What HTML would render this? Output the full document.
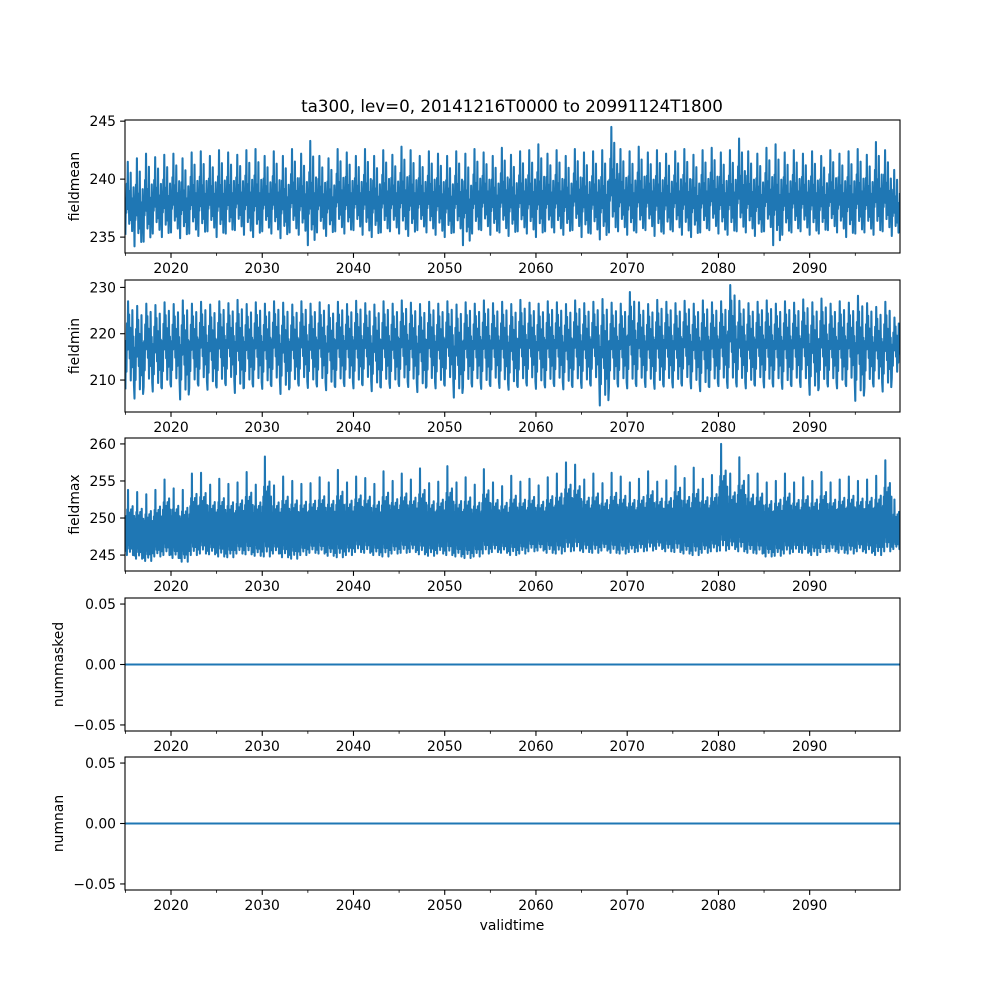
<!DOCTYPE html>
<html><head><meta charset="utf-8"><style>
html,body{margin:0;padding:0;background:#fff}
svg{display:block}
text{font-family:"DejaVu Sans","Liberation Sans",sans-serif;font-size:13.9px;fill:#000}
</style></head><body>
<svg id="fig" width="1000" height="1000" viewBox="0 0 1000 1000">
<text x="512" y="112" text-anchor="middle" style="font-size:16.7px">ta300, lev=0, 20141216T0000 to 20991124T1800</text>
<text x="512" y="930" text-anchor="middle">validtime</text>
</svg>
<script>
const years = [];
for (let y = 2015; y <= 2099; y++) years.push(y);
const xTicks = [2020, 2030, 2040, 2050, 2060, 2070, 2080, 2090];
const xMinorTicks = [2015, 2025, 2035, 2045, 2055, 2065, 2075, 2085, 2095];

const meanPeaks = [241.5,241.8,242.2,241.9,242.1,242.2,241.8,242.3,242.4,242.0,242.5,242.3,242.1,242.5,242.6,242.0,242.4,242.0,242.6,242.2,243.3,242.0,241.8,242.6,242.3,242.0,242.6,242.0,242.5,242.1,242.8,242.5,242.0,242.4,242.2,242.0,242.4,242.2,242.6,242.3,242.0,242.7,242.1,242.4,242.5,243.0,242.2,242.5,242.0,242.6,242.3,242.4,242.5,244.5,242.6,242.4,242.8,242.3,242.5,242.2,242.4,242.6,242.1,242.5,242.7,242.3,242.5,243.5,242.4,242.2,242.7,243.0,242.3,242.5,242.2,242.4,242.0,242.5,242.2,242.4,242.6,242.1,243.2,242.5,240.8];
const meanTroughs = [235.2,234.2,234.6,235.3,235.0,235.4,234.9,235.3,235.1,235.5,235.0,235.3,235.6,235.2,235.0,235.5,235.3,234.9,235.4,235.2,234.3,235.4,235.1,235.5,235.3,235.6,235.2,235.0,235.4,235.5,235.3,235.1,235.6,235.4,235.2,235.0,235.4,234.3,235.3,235.6,235.2,235.4,235.1,235.5,235.3,235.0,235.5,235.4,235.2,235.6,235.0,235.3,234.8,235.4,235.5,235.2,235.4,235.6,235.1,235.3,235.5,235.2,235.0,235.4,235.6,235.3,235.2,235.5,235.4,235.1,235.5,234.3,235.2,235.4,235.5,235.2,235.3,235.6,235.4,235.0,235.3,235.4,235.2,235.5,235.1];

const minPeaks = [227.0,226.0,226.5,226.2,226.8,226.4,227.2,226.5,226.9,226.3,227.0,226.6,227.3,226.4,226.8,226.5,227.0,226.7,226.3,227.0,226.5,226.8,226.2,226.9,226.4,227.1,226.6,226.3,227.0,226.5,227.2,226.7,226.4,226.9,226.5,227.0,226.3,226.8,226.5,227.2,226.6,226.9,226.4,227.3,226.7,226.5,227.0,226.8,226.4,227.2,226.6,226.9,227.5,226.7,226.5,229.0,226.8,226.4,227.3,226.9,226.6,227.1,226.5,227.2,226.8,227.0,230.5,227.1,226.6,226.9,227.2,226.5,227.0,226.7,227.4,226.8,227.6,226.5,227.0,226.7,228.2,226.6,225.8,226.9,223.5];
const minTroughs = [208.0,206.0,208.5,207.5,208.2,208.6,205.8,208.3,208.8,207.9,208.4,208.9,207.2,208.3,208.6,208.1,208.7,207.0,208.4,208.8,208.3,208.6,207.8,208.5,208.7,208.2,208.9,207.6,208.4,208.3,208.7,208.5,207.4,208.6,208.2,208.8,206.2,208.4,208.6,208.1,208.7,208.3,207.9,208.5,208.8,208.1,208.4,208.7,208.0,208.5,208.3,208.8,204.5,208.4,208.6,208.2,208.7,208.5,208.1,208.6,208.4,208.8,208.2,207.6,208.5,208.7,208.3,208.6,208.2,208.8,208.4,208.6,208.1,208.7,208.5,206.8,208.3,208.6,208.2,208.7,205.5,208.4,208.6,207.5,210.5];

const maxTops = [253.8,253.5,253.2,253.8,255.2,254.0,253.8,256.0,256.1,254.5,255.3,254.6,254.8,256.2,254.5,258.3,254.4,255.6,255.0,254.6,254.7,255.5,254.8,256.5,254.8,255.6,255.4,254.6,256.3,255.0,256.0,255.2,256.7,254.7,254.9,257.0,254.8,255.5,254.5,256.6,254.8,254.3,255.7,254.9,255.3,254.4,255.5,256.0,257.5,257.2,255.2,256.0,254.7,256.1,255.6,254.8,255.3,256.3,254.9,255.1,257.0,255.4,256.8,255.3,255.8,260.0,256.0,258.2,255.8,256.0,254.8,255.0,256.0,254.8,255.5,255.0,256.2,254.8,255.2,255.6,255.0,255.2,255.7,257.8,252.5];
const maxLows = [245.0,244.5,244.2,244.8,245.0,244.6,244.1,245.0,245.2,245.1,244.8,244.7,245.2,245.1,244.9,244.8,245.2,244.7,244.5,245.0,245.3,245.2,244.9,244.7,245.0,245.4,245.3,245.0,244.8,245.2,245.3,245.4,245.1,244.9,245.2,245.0,244.8,244.6,244.8,245.2,245.4,245.3,245.0,245.2,245.5,245.6,245.3,245.2,245.5,245.6,245.4,245.3,245.6,245.3,245.2,245.4,245.5,245.6,245.8,245.5,245.4,245.2,245.0,245.3,245.5,245.6,245.8,245.5,245.3,245.2,244.8,244.9,245.2,245.4,245.3,245.0,245.4,245.5,245.3,245.2,245.5,245.3,245.0,245.5,245.8];

const zeroSeries = years.map(() => 0);

const svg = document.getElementById('fig');
const NS = 'http://www.w3.org/2000/svg';
const X0 = 125, X1 = 900, T0 = 2014.958, T1 = 2099.9;
function xs(t) { return X0 + (t - T0) / (T1 - T0) * (X1 - X0); }

function mk(tag, attrs, parent) {
  const e = document.createElementNS(NS, tag);
  for (const k in attrs) e.setAttribute(k, attrs[k]);
  (parent || svg).appendChild(e);
  return e;
}

const panels = [
  {name:'fieldmean', top:120, bot:253, ymin:233.63, ymax:245.1, ticks:[235,240,245], fmt:v=>String(v), lx:79},
  {name:'fieldmin', top:280, bot:412, ymin:203.1, ymax:231.6, ticks:[210,220,230], fmt:v=>String(v), lx:79},
  {name:'fieldmax', top:438, bot:571, ymin:242.85, ymax:260.8, ticks:[245,250,255,260], fmt:v=>String(v), lx:79},
  {name:'nummasked', top:598, bot:731, ymin:-0.055, ymax:0.055, ticks:[-0.05,0,0.05], fmt:v=>v.toFixed(2).replace('-','−'), lx:63},
  {name:'numnan', top:757, bot:890, ymin:-0.055, ymax:0.055, ticks:[-0.05,0,0.05], fmt:v=>v.toFixed(2).replace('-','−'), lx:63}
];

const tmplMean = [0,0.5,0.3,0.7,0.4,1.0,0.35,0.6,0.15,0.55,0.3,0.85,0.2,0.5,0.05,0.45,0.25,0.65,0.3];
const tmplMin = [0,0.55,0.2,0.75,0.45,1.0,0.6,0.85,0.35,0.7,0.1,0.5,0.25,0.9,0.4,0.6,0.05];
const tmplMax = [0.05,0.5,0.1,0.6,0.0,0.7,0.15,1.0,0.2,0.55,0.1,0.65,0.05,0.5,0.2,0.7,0.1,0.55,0.3,0.75,0.0,0.5,0.15,0.6];

function seriesPath(lo, hi, tmpl, ys) {
  let d = '';
  for (let i = 0; i < years.length; i++) {
    const n = tmpl.length;
    for (let j = 0; j < n; j++) {
      const t = years[i] + j / n;
      if (t > T1) break;
      const v = lo[i] + tmpl[j] * (hi[i] - lo[i]);
      d += (d ? 'L' : 'M') + xs(t).toFixed(2) + ',' + ys(v).toFixed(2);
    }
  }
  return d;
}

panels.forEach((p, idx) => {
  const g = mk('g', {});
  
  
  const ys = v => p.bot - (v - p.ymin) / (p.ymax - p.ymin) * (p.bot - p.top);
  const cid = 'clip' + idx;
  const cp = mk('clipPath', {id: cid}, g);
  mk('rect', {x: X0, y: p.top, width: X1 - X0, height: p.bot - p.top}, cp);
  let d;
  if (idx === 0) d = seriesPath(meanTroughs, meanPeaks, tmplMean, ys);
  else if (idx === 1) d = seriesPath(minTroughs, minPeaks, tmplMin, ys);
  else if (idx === 2) d = seriesPath(maxLows, maxTops, tmplMax, ys);
  else {
    d = '';
    years.forEach((y, i) => { d += (i ? 'L' : 'M') + xs(y).toFixed(2) + ',' + ys(zeroSeries[i]).toFixed(2); });
    d += 'L' + xs(T1).toFixed(2) + ',' + ys(0).toFixed(2);
  }
  const line = mk('path', {d: d, fill: 'none', stroke: '#1f77b4', 'stroke-width': 2.08, 'stroke-linejoin': 'round', 'clip-path': 'url(#' + cid + ')'}, g);
  
  
  const frame = mk('rect', {x: X0, y: p.top, width: X1 - X0, height: p.bot - p.top, fill: 'none', stroke: '#000', 'stroke-width': 1.1}, g);
  
  
  p.ticks.forEach(v => {
    const y = ys(v);
    mk('line', {x1: X0 - 4.9, x2: X0, y1: y, y2: y, stroke: '#000', 'stroke-width': 1.1}, g);
    const t = mk('text', {x: X0 - 9, y: y + 5, 'text-anchor': 'end'}, g);
    t.textContent = p.fmt(v);
    
    
  });
  xTicks.forEach(v => {
    const x = xs(v);
    mk('line', {x1: x, x2: x, y1: p.bot, y2: p.bot + 4.9, stroke: '#000', 'stroke-width': 1.1}, g);
    const t = mk('text', {x: x, y: p.bot + 20, 'text-anchor': 'middle'}, g);
    t.textContent = String(v);
    
    
  });
  xMinorTicks.forEach(v => {
    const x = xs(v);
    mk('line', {x1: x, x2: x, y1: p.bot, y2: p.bot + 2.8, stroke: '#000', 'stroke-width': 0.8}, g);
  });
  const cy = (p.top + p.bot) / 2;
  const lab = mk('text', {x: p.lx, y: cy, 'text-anchor': 'middle', transform: 'rotate(-90 ' + p.lx + ' ' + cy + ')'}, g);
  lab.textContent = p.name;
  
  
});
</script>
</body></html>
